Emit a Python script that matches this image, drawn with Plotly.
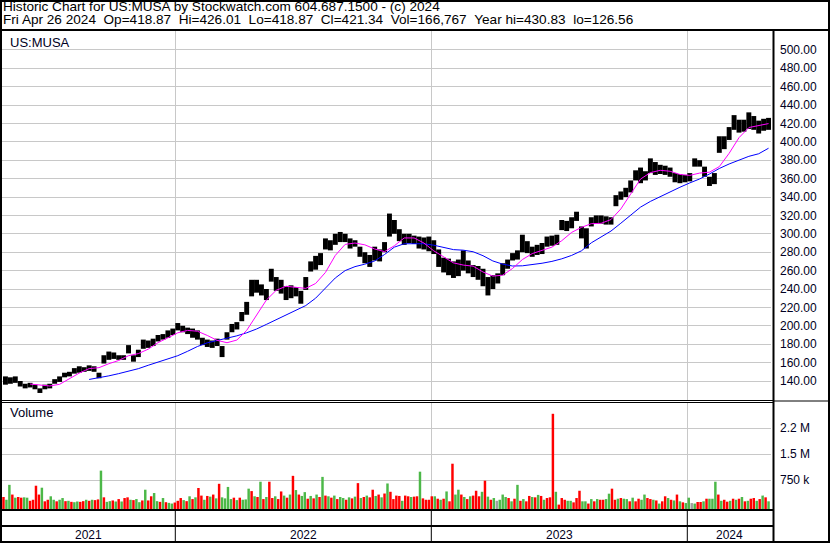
import numpy as np
import pandas as pd
import plotly.graph_objects as go

# ---------------- data ----------------
trading_days = pd.bdate_range("2021-04-30", "2024-04-26")
week_dates = pd.date_range("2021-05-05", periods=156, freq="7D")   # weekly samples (Wednesdays)

price_low = [136,137,138,134,132,133,131,127,131,132,
             137,139,144,145,148,149,150,151,150,143,
             159,163,164,163,163,170,161,166,175,176,
             178,183,185,187,190,195,193,191,187,185,
             179,177,176,178,166,185,193,196,205,212,
             232,236,233,228,248,238,235,228,230,232,
             224,239,259,261,266,283,282,288,291,291,
             284,286,275,268,264,271,270,280,297,300,
             292,288,290,289,284,283,281,278,264,258,
             255,252,254,260,257,253,250,243,233,240,
             246,255,262,271,272,280,279,275,277,278,
             286,287,288,304,303,306,314,295,284,308,
             311,311,310,310,330,337,340,345,358,355,
             358,366,364,365,364,362,356,355,356,357,
             373,373,362,352,354,388,392,402,413,410,
             411,414,413,409,412,413]
price_high = [145,144,145,140,137,138,136,132,136,137,
              142,145,149,150,154,156,155,157,156,149,
              168,172,171,168,168,179,168,174,185,184,
              186,190,191,195,197,203,200,198,197,195,
              187,185,184,186,178,193,202,204,215,226,
              250,250,245,240,262,253,250,243,244,242,
              238,253,270,276,279,295,293,300,302,300,
              295,293,286,280,277,286,283,291,322,315,
              305,300,300,298,297,296,297,293,283,274,
              273,270,272,282,271,266,265,262,253,255,
              257,268,272,279,282,299,292,286,288,290,
              297,298,299,315,314,318,324,308,306,318,
              320,320,319,318,342,346,350,358,369,372,
              368,382,378,375,374,372,366,365,364,366,
              382,380,373,362,366,406,406,416,429,424,
              424,432,428,423,425,426]

ma_dates = week_dates[1::2]
ma_fast = [None,None,136.7,135.3,134.6,136.4,142.6,148.6,153.5,154.5,
           158.8,162.3,167.5,169.8,174.6,181.7,187.0,192.4,195.0,194.1,
           189.5,184.2,181.6,184.5,195.0,212.0,228.0,238.6,243.0,241.8,
           240.7,246.0,258.0,276.5,288.5,290.0,288.0,283.5,280.6,287.0,
           295.5,295.5,290.0,281.5,274.7,268.4,266.0,264.8,258.5,254.0,
           255.0,262.3,272.0,278.5,282.0,285.5,292.5,301.5,307.0,311.0,
           311.4,315.5,327.0,344.0,359.5,366.5,369.0,368.0,364.5,363.5,
           366.0,367.0,373.0,387.5,404.5,415.5,418.0,419.8]
ma_slow = [None,None,None,None,None,None,None,None,141.7,143.4,
           145.6,148.0,150.4,153.4,157.1,160.3,163.8,167.5,172.3,177.5,
           181.5,184.0,186.5,189.1,192.4,196.5,201.5,206.5,211.5,216.5,
           222.0,230.0,241.0,252.0,260.0,264.3,267.0,270.5,277.5,285.5,
           289.2,289.6,289.2,287.6,285.1,282.8,282.2,280.5,276.2,270.5,
           267.0,265.0,265.2,266.3,268.0,270.0,272.8,276.5,281.5,290.2,
           296.5,303.0,311.5,319.8,329.0,335.2,340.5,345.8,350.6,355.3,
           359.6,365.0,371.0,375.9,380.2,384.2,387.0,393.0]

vol_dates = trading_days[1::3]
volume_k = [260,180,610,330,240,260,240,250,240,150,
            180,585,330,528,135,180,280,180,135,180,
            230,140,150,120,110,130,120,140,180,150,
            180,170,190,1020,250,120,140,160,130,200,
            130,230,250,180,170,200,110,160,470,160,
            280,374,140,120,230,110,90,70,100,150,
            230,170,140,280,200,250,520,300,180,290,
            270,330,220,640,250,220,550,200,240,170,
            240,180,190,500,430,280,260,700,200,260,
            700,230,280,200,420,300,240,330,870,460,
            330,290,400,210,290,220,330,260,840,300,
            280,240,300,200,260,230,180,250,220,270,
            660,230,260,300,250,470,290,330,250,360,
            650,410,200,300,290,150,300,280,260,270,
            280,990,220,180,180,280,280,210,180,210,
            420,135,1220,330,470,330,260,200,280,300,
            440,280,410,730,270,180,230,150,180,330,
            260,230,135,210,610,150,200,135,290,260,
            250,320,290,180,230,250,2660,410,40,230,
            180,150,150,105,230,440,135,135,70,200,
            135,200,180,180,200,355,500,180,210,230,
            210,200,135,240,135,210,180,330,230,200,
            180,160,70,135,280,230,180,160,330,135,
            105,85,240,85,70,115,115,135,210,210,
            210,700,330,150,180,125,150,210,180,210,
            260,135,150,210,230,150,200,300,250,135]
volume_dir = ("rggrgrrggr" "rrrgrrggrg" "grgrggrrgr" "grrgrggrgr" "grrgrggrgr"
              "rggrgrggrr" "rgrgrgrrgr" "grgrggggrg" "rgggrgrgrg" "rrgrrgrgrg"
              "rggrgrgrgr" "grgrggrgrg" "rgrgrrgrgr" "grrrrgrrgr" "rgrrrrgrgr"
              "grrggrgrgr" "rrgrgrgngg" "grgrgrgrrg" "rgrgrrrgrr" "rggrrrggrg"
              "rgrrggrrgr" "ggrgrrggrr" "grgrrgrgrg" "rggngrrgrg" "ggrgrrgrgr"
              "grgrrgrgrg")

price_ticks = list(range(140, 501, 20))
volume_ticks = [750000, 1500000, 2250000]
volume_tick_text = ["750 k", "1.5 M", "2.2 M"]

header1 = "Historic Chart for US:MUSA by Stockwatch.com 604.687.1500 - (c) 2024"
header2 = ("Fri Apr 26 2024  Op=418.87  Hi=426.01  Lo=418.87  Cl=421.34  "
           "Vol=166,767  Year hi=430.83  lo=126.56")
symbol = "US:MUSA"

# ---------------- figure ----------------
W, H = 830, 543
FONT = "Arial, Liberation Sans, sans-serif"
GRID = "#c8c8c8"
NB = "\u00a0"

def fx(p):
    return p / W

def fy(p):
    return 1 - p / H

wx = trading_days.get_indexer(week_dates)
mx = trading_days.get_indexer(ma_dates)
vx = trading_days.get_indexer(vol_dates)

years = trading_days.year
year_list = sorted(set(years))
starts = [int(np.argmax(years == y)) for y in year_list]
ends = [int(len(years) - 1 - np.argmax(years[::-1] == y)) for y in year_list]
bounds = [s - 0.5 for s in starts[1:]]
centers = [(s + e) / 2 for s, e in zip(starts, ends)]

lo = np.array(price_low, dtype=float)
hi = np.array(price_high, dtype=float)

vol_min = -86538
vol_max = 3000000
vols = np.array(volume_k, dtype=float) * 1000
cmap = {"g": "#4cb848", "r": "#ff0000", "n": "#a0a0a0"}
vcolors = [cmap[c] for c in volume_dir]

fig = go.Figure()
fig.add_trace(go.Bar(x=wx, y=hi - lo, base=lo, width=5.0,
                     marker=dict(color="black", line=dict(width=0)),
                     xaxis="x", yaxis="y", showlegend=False))
fig.add_trace(go.Scatter(x=mx, y=ma_slow, mode="lines",
                         line=dict(color="#0000ff", width=1),
                         xaxis="x", yaxis="y", showlegend=False))
fig.add_trace(go.Scatter(x=mx, y=ma_fast, mode="lines",
                         line=dict(color="#ff00ff", width=1),
                         xaxis="x", yaxis="y", showlegend=False))
fig.add_trace(go.Bar(x=vx, y=vols - vol_min, base=vol_min, width=2.5,
                     marker=dict(color=vcolors, line=dict(width=0)),
                     xaxis="x2", yaxis="y2", showlegend=False))

xr = [-0.5, len(trading_days) - 0.5]
xcommon = dict(range=xr, tickmode="array", tickvals=bounds, showticklabels=False,
               showgrid=True, gridcolor=GRID, gridwidth=1, zeroline=False,
               ticks="", showline=False, domain=[fx(2), fx(771)], fixedrange=True)

tickfont = dict(family=FONT, size=12, color="#000022")
fig.update_layout(
    width=W, height=H,
    margin=dict(l=0, r=0, t=0, b=0, pad=0),
    paper_bgcolor="white", plot_bgcolor="white",
    barmode="overlay",
    font=dict(family=FONT, size=12, color="black"),
    xaxis=dict(anchor="y", **xcommon),
    xaxis2=dict(anchor="y2", matches="x", **xcommon),
    yaxis=dict(domain=[fy(400), fy(31)], range=[119.35, 520.43], side="right",
               tickmode="array", tickvals=price_ticks,
               ticktext=[f"{v:.2f}" for v in price_ticks],
               showgrid=True, gridcolor=GRID, zeroline=False, ticks="",
               ticklabelstandoff=8, tickfont=tickfont, showline=False, fixedrange=True),
    yaxis2=dict(domain=[fy(509), fy(402)], range=[vol_min, vol_max], side="right",
                tickmode="array", tickvals=volume_ticks, ticktext=volume_tick_text,
                showgrid=True, gridcolor=GRID, zeroline=False, ticks="",
                ticklabelstandoff=8, tickfont=tickfont, showline=False, fixedrange=True),
    hovermode=False,
)

shapes = []

def hline(y, x0, x1, w):
    shapes.append(dict(type="line", xref="paper", yref="paper",
                       x0=fx(x0), x1=fx(x1), y0=fy(y), y1=fy(y),
                       line=dict(color="black", width=w)))

def vline(x, y0, y1, w):
    shapes.append(dict(type="line", xref="paper", yref="paper",
                       x0=fx(x), x1=fx(x), y0=fy(y0), y1=fy(y1),
                       line=dict(color="black", width=w)))

hline(1, 0, W, 2)
hline(542, 0, W, 2)
vline(1, 0, H, 2)
vline(829, 0, H, 2)
hline(30, 0, W, 2)
vline(773.5, 30, H, 2)
hline(400.5, 0, 773, 1)
hline(402.5, 0, 773, 1)
hline(401, 773, W, 1)
hline(510, 0, 773, 2)
hline(526, 0, 773, 2)
for b in bounds:
    shapes.append(dict(type="line", xref="x", yref="paper", x0=b, x1=b,
                       y0=fy(510), y1=fy(542), line=dict(color="black", width=1)))
fig.update_layout(shapes=shapes)

def txt(s):
    return s.replace("  ", NB + NB)

ann = []
ann.append(dict(text=txt(header1), x=fx(2), y=fy(7.0), xref="paper", yref="paper",
                xanchor="left", yanchor="middle", showarrow=False, borderpad=0,
                font=dict(family=FONT, size=13.6, color="black")))
ann.append(dict(text=txt(header2), x=fx(2), y=fy(19.4), xref="paper", yref="paper",
                xanchor="left", yanchor="middle", showarrow=False, borderpad=0,
                font=dict(family=FONT, size=13.6, color="black")))
ann.append(dict(text=symbol, x=fx(8), y=fy(42), xref="paper", yref="paper",
                xanchor="left", yanchor="middle", showarrow=False,
                font=dict(family=FONT, size=13, color="#000022")))
ann.append(dict(text="Volume", x=fx(8), y=fy(413), xref="paper", yref="paper",
                xanchor="left", yanchor="middle", showarrow=False,
                font=dict(family=FONT, size=13, color="#000022")))
for yv, c in zip(year_list, centers):
    ann.append(dict(text=str(yv), x=c, y=fy(534.5), xref="x", yref="paper",
                    xanchor="center", yanchor="middle", showarrow=False,
                    font=dict(family=FONT, size=12, color="#000022")))
fig.update_layout(annotations=ann)

fig.write_html("out.html",
               config={"displayModeBar": False, "staticPlot": True},
               post_script="document.body.style.margin='0';"
                           "document.body.style.overflow='hidden';")
